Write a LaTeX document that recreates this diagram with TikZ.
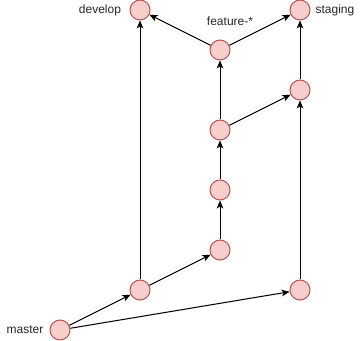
\documentclass[tikz,border=0pt]{standalone}
\usepackage{fontspec}
\setmainfont{Liberation Sans}
\usepackage{xcolor}
\usetikzlibrary{arrows.meta}

\definecolor{commitfill}{HTML}{F8CECC}
\definecolor{commitline}{HTML}{B85450}

\begin{document}
\begin{tikzpicture}[x=0.75pt,y=-0.75pt,
    commit/.style={circle,draw=commitline,fill=commitfill,line width=0.75pt,
        minimum size=15pt,inner sep=0pt},
    branch/.style={font=\fontsize{9}{10}\selectfont,text=black!85},
    link/.style={-{Stealth[length=6pt,width=5pt,inset=1.5pt]},line width=0.75pt}]
    \useasboundingbox (0,0) rectangle (361,341);

    % Commits
    \node[commit] (master) at (60,330) {};
    \node[commit] (dev1) at (140,290) {};
    \node[commit] (develop) at (140,10) {};
    \node[commit] (feat1) at (220,250) {};
    \node[commit] (feat2) at (220,190) {};
    \node[commit] (feat3) at (220,130) {};
    \node[commit] (feat4) at (220,50) {};
    \node[commit] (stage1) at (300,290) {};
    \node[commit] (stage2) at (300,90) {};
    \node[commit] (staging) at (300,10) {};

    % Branch names
    \node[branch] (masterlbl) at (25,330) {master};
    \node[branch] (developlbl) at (100,10) {develop};
    \node[branch] (featurelbl) at (230,21) {feature-*};
    \node[branch] (staginglbl) at (335,10) {staging};

    % History
    \draw[link] (master) -- (dev1);
    \draw[link] (master) -- (stage1);
    \draw[link] (dev1) -- (develop);
    \draw[link] (dev1) -- (feat1);
    \draw[link] (feat1) -- (feat2);
    \draw[link] (feat2) -- (feat3);
    \draw[link] (feat3) -- (feat4);
    \draw[link] (feat3) -- (stage2);
    \draw[link] (feat4) -- (develop);
    \draw[link] (feat4) -- (staging);
    \draw[link] (stage1) -- (stage2);
    \draw[link] (stage2) -- (staging);
\end{tikzpicture}
\end{document}
